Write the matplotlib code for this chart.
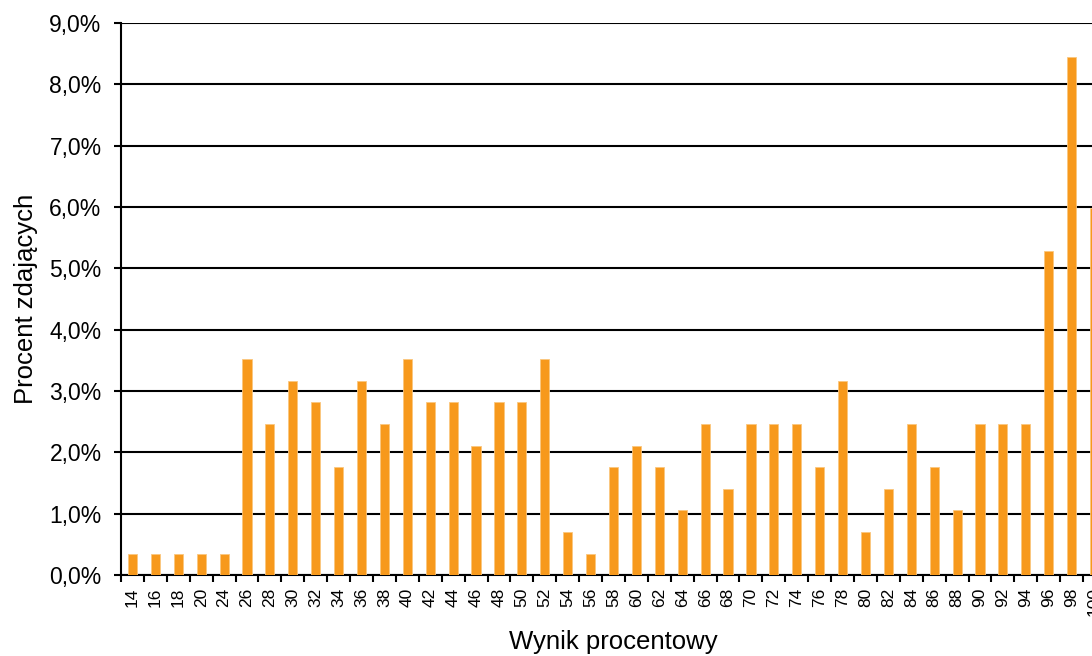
import matplotlib
matplotlib.use("Agg")
from matplotlib import pyplot as plt
from matplotlib.ticker import FuncFormatter
import numpy as np

plt.rcParams['font.family'] = ['Liberation Sans', 'DejaVu Sans']

# wynik procentowy -> procent zdających
wyniki = ["14", "16", "18", "20", "24", "26", "28", "30", "32", "34", "36", "38",
          "40", "42", "44", "46", "48", "50", "52", "54", "56", "58", "60", "62",
          "64", "66", "68", "70", "72", "74", "76", "78", "80", "82", "84", "86",
          "88", "90", "92", "94", "96", "98", "100"]
procent = [0.35, 0.35, 0.35, 0.35, 0.35, 3.52, 2.46, 3.17, 2.82, 1.76, 3.17, 2.46,
           3.52, 2.82, 2.82, 2.11, 2.82, 2.82, 3.52, 0.70, 0.35, 1.76, 2.11, 1.76,
           1.06, 2.46, 1.41, 2.46, 2.46, 2.46, 1.76, 3.17, 0.70, 1.41, 2.46, 1.76,
           1.06, 2.46, 2.46, 2.46, 5.28, 8.45, 5.99]
y_ticks = [0, 1, 2, 3, 4, 5, 6, 7, 8, 9]

fig = plt.figure(figsize=(10.92, 6.56), dpi=100)
ax = fig.add_axes([121 / 1092, 81 / 656, 985 / 1092, 552 / 656])

x = np.arange(len(wyniki))
ax.bar(x, procent, width=0.4, color="#F7991C", edgecolor="#FBC77E", linewidth=0.6, zorder=3)

ax.set_xlim(-0.5, len(wyniki) - 0.5)
ax.set_ylim(0, 9)
ax.set_yticks(y_ticks)
ax.yaxis.set_major_formatter(FuncFormatter(lambda v, p: f"{v:.1f}%".replace(".", ",")))
ax.yaxis.grid(True, color="black", linewidth=1.5)
ax.set_axisbelow(True)

ax.set_xticks(x)
ax.set_xticklabels(wyniki, rotation=90, fontsize=12.5)
ax.set_xticks(np.arange(len(wyniki) + 1) - 0.5, minor=True)
ax.tick_params(axis="x", which="major", length=0, pad=9)
ax.tick_params(axis="x", which="minor", length=5, width=1.5, direction="out")
ax.tick_params(axis="y", length=5, width=1.5, direction="out", labelsize=16.5, pad=9)

for s in ["top", "right"]:
    ax.spines[s].set_visible(False)
ax.spines["left"].set_linewidth(1.5)
ax.spines["bottom"].set_linewidth(1.5)

ax.set_xlabel("Wynik procentowy", fontsize=18.5, labelpad=10)
ax.set_ylabel("Procent zdających", fontsize=18.5, labelpad=8)

fig.savefig("out.png", dpi=100)
